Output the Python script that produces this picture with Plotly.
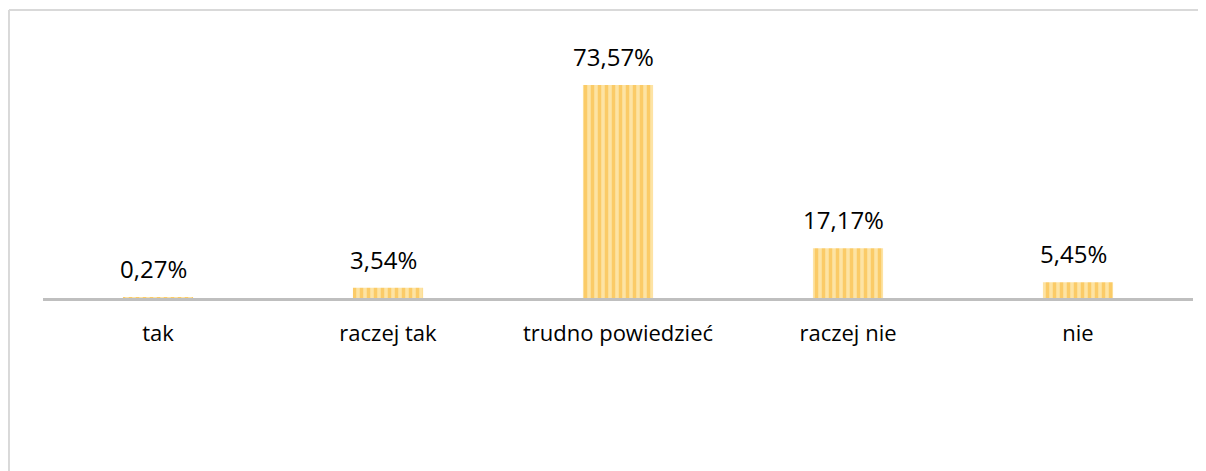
import plotly.graph_objects as go

categories = ["tak", "raczej tak", "trudno powiedzieć", "raczej nie", "nie"]
values = [0.27, 3.54, 73.57, 17.17, 5.45]

def pct(v):
    return f"{v:.2f}%".replace(".", ",")

fig = go.Figure(go.Bar(
    x=categories,
    y=values,
    width=0.305,
    marker=dict(
        color="#fde3a4",
        line=dict(width=0),
        pattern=dict(shape="|", bgcolor="#fde3a4", fgcolor="#fab42a",
                     size=7, solidity=0.5),
    ),
    hoverinfo="skip",
))

for c, v in zip(categories, values):
    fig.add_annotation(x=c, y=v, text=pct(v), showarrow=False,
                       yanchor="bottom", xshift=-5, yshift=10,
                       font=dict(family="Open Sans", size=24, color="#000000"))

# chart-area frame (top and left edges visible)
fig.add_shape(type="line", xref="paper", yref="paper",
              x0=-0.0296, x1=1.05, y0=1.241, y1=1.241,
              line=dict(color="#d9d9d9", width=2))
fig.add_shape(type="line", xref="paper", yref="paper",
              x0=-0.0296, x1=-0.0296, y0=-1.0, y1=1.241,
              line=dict(color="#d9d9d9", width=2))

# page body keeps its default 8px margin, so the figure is 8px smaller
fig.update_layout(
    width=1198, height=463,
    margin=dict(l=35, r=13, t=58, b=173),
    paper_bgcolor="white", plot_bgcolor="white",
    showlegend=False,
    font=dict(family="Open Sans", color="#000000"),
    xaxis=dict(showline=True, linecolor="#bfbfbf", linewidth=3,
               ticks="outside", ticklen=14, tickcolor="rgba(0,0,0,0)",
               tickfont=dict(family="Open Sans", size=22, color="#000000"),
               showgrid=False, zeroline=False, fixedrange=True),
    yaxis=dict(visible=False, range=[0, 80.1], showgrid=False,
               zeroline=False, fixedrange=True),
)

fig.write_html("out.html")
